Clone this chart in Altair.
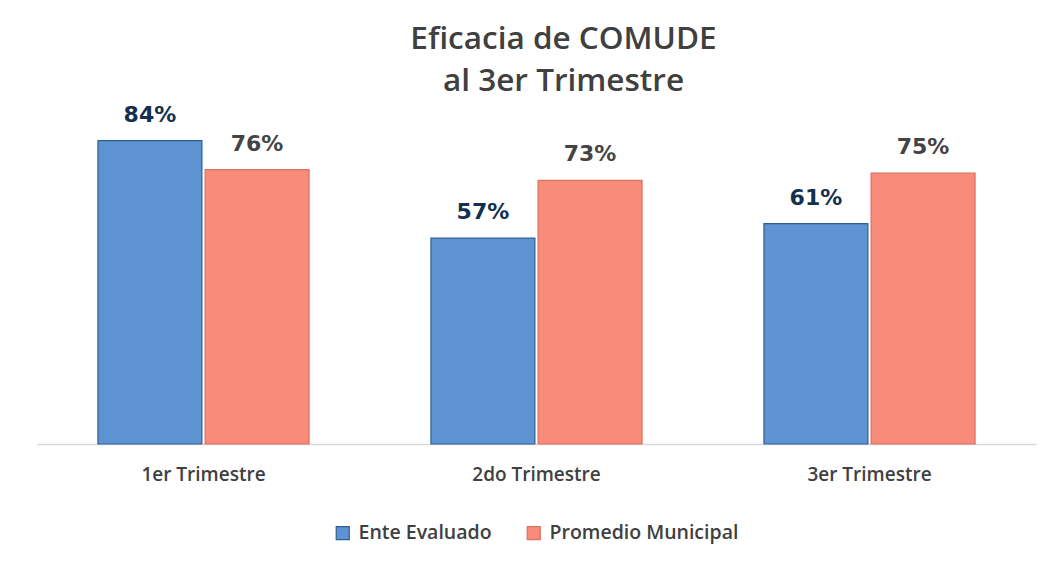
import altair as alt
import pandas as pd

categorias = ["1er Trimestre", "2do Trimestre", "3er Trimestre"]
series = ["Ente Evaluado", "Promedio Municipal"]
ente = [84, 57, 61]
promedio = [76, 73, 75]

rows = []
for i, c in enumerate(categorias):
    rows.append({"cat": c, "serie": series[0], "valor": ente[i], "label": f"{ente[i]}%"})
    rows.append({"cat": c, "serie": series[1], "valor": promedio[i], "label": f"{promedio[i]}%"})
df = pd.DataFrame(rows)

FONT = "Open Sans"

x = alt.X("cat:N", sort=categorias, title=None,
          scale=alt.Scale(paddingInner=0.366, paddingOuter=0.183),
          axis=alt.Axis(labelAngle=0, labelFont=FONT, labelFontSize=19, labelFontWeight=600,
                        labelColor="#404040", labelPadding=21, ticks=False,
                        domainColor="#d9d9d9", domainWidth=1.5))
xo = alt.XOffset("serie:N", sort=series, scale=alt.Scale(paddingInner=0.03, paddingOuter=0))
y = alt.Y("valor:Q", scale=alt.Scale(domain=[0, 90]), axis=None)

bars = alt.Chart(df).mark_bar(strokeWidth=1.2).encode(
    x=x, xOffset=xo, y=y,
    color=alt.Color("serie:N", sort=series,
                    scale=alt.Scale(domain=series, range=["#5E93D2", "#F98B7A"]),
                    legend=alt.Legend(title=None, orient="none", direction="horizontal",
                                      legendX=296, legendY=404, symbolType="square",
                                      symbolSize=170, symbolStrokeWidth=1.2,
                                      labelFont=FONT, labelFontSize=19.5, labelFontWeight=600,
                                      labelColor="#404040", labelLimit=0,
                                      columnPadding=32, labelOffset=6)),
    stroke=alt.Stroke("serie:N", sort=series,
                      scale=alt.Scale(domain=series, range=["#2E5F93", "#D9735F"]),
                      legend=None),
)

text = alt.Chart(df).mark_text(baseline="bottom", dy=-14, font="DejaVu Sans",
                               fontSize=22, fontWeight="bold").encode(
    x=x, xOffset=xo, y=y, text="label:N",
    color=alt.condition(alt.datum.serie == "Ente Evaluado",
                        alt.value("#13304F"), alt.value("#444444")),
)

chart = alt.layer(bars, text).properties(
    width=999, height=325,
    title=alt.TitleParams(["Eficacia de COMUDE", "al 3er Trimestre"], font=FONT,
                          fontSize=31.5, fontWeight=600, color="#404040",
                          lineHeight=42, anchor="middle", offset=6, dx=27),
    autosize=alt.AutoSizeParams(type="none"),
    padding={"left": 37, "top": 119, "right": 9, "bottom": 122},
).configure(background="white").configure_view(stroke=None)

chart.save("out.html", embed_options={"renderer": "svg", "actions": False})
